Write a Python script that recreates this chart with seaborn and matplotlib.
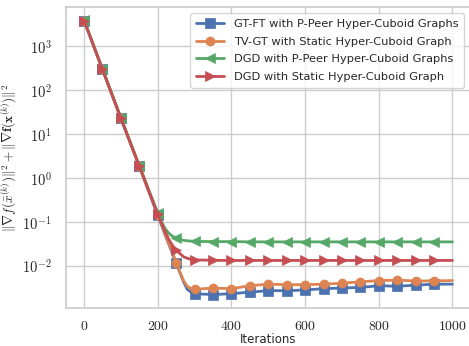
import numpy as np
import pandas as pd
import matplotlib
matplotlib.use('Agg')
import matplotlib.pyplot as plt
import matplotlib.ticker as mticker
import seaborn as sns

iters = [0, 50, 100, 150, 200, 210, 220, 230, 240, 250, 260, 270, 280, 290, 300,
         350, 400, 450, 500, 550, 600, 650, 700, 750, 800, 850, 900, 950, 1000]

gtft_ppeer = [3900, 300, 23, 1.85, 0.14, 0.085, 0.05, 0.031, 0.019, 0.0115, 0.007, 0.0043,
              0.0029, 0.0025, 0.0023, 0.0022, 0.0023, 0.0025, 0.0027, 0.0027, 0.0028,
              0.0030, 0.0031, 0.0032, 0.0035, 0.0034, 0.0036, 0.0038, 0.0038]
tvgt_static = [3900, 300, 23, 1.85, 0.145, 0.088, 0.052, 0.032, 0.02, 0.0118, 0.0072, 0.0046,
               0.0034, 0.0030, 0.0029, 0.0031, 0.0030, 0.0035, 0.0038, 0.0037, 0.0037,
               0.0038, 0.0040, 0.0043, 0.0046, 0.0047, 0.0045, 0.0045, 0.0046]
dgd_ppeer = [3950, 300, 23.5, 1.9, 0.16, 0.10, 0.07, 0.055, 0.047, 0.043, 0.040, 0.038,
             0.037, 0.0365, 0.036, 0.0355, 0.0355, 0.035, 0.035, 0.035, 0.035,
             0.035, 0.035, 0.035, 0.035, 0.035, 0.035, 0.035, 0.035]
dgd_static = [3900, 300, 23, 1.85, 0.15, 0.095, 0.06, 0.04, 0.029, 0.023, 0.019, 0.016,
              0.0148, 0.014, 0.0136, 0.0133, 0.0132, 0.0132, 0.0132, 0.0132, 0.0132,
              0.0132, 0.0132, 0.0132, 0.0132, 0.0132, 0.0132, 0.0132, 0.0132]

labels = ['GT-FT with P-Peer Hyper-Cuboid Graphs',
          'TV-GT with Static Hyper-Cuboid Graph',
          'DGD with P-Peer Hyper-Cuboid Graphs',
          'DGD with Static Hyper-Cuboid Graph']
markers = ['s', 'o', '<', '>']
xticks = [0, 200, 400, 600, 800, 1000]
yticks = [1e-2, 1e-1, 1e0, 1e1, 1e2, 1e3]

sns.set_theme(style='whitegrid')
plt.rcParams['font.family'] = ['DejaVu Sans']
plt.rcParams['mathtext.fontset'] = 'cm'

colors = sns.color_palette('deep')
mark_idx = [i for i, it in enumerate(iters) if it % 50 == 0 and it < 1000]

fig = plt.figure(figsize=(4.69, 3.46), dpi=100)
ax = fig.add_axes([0.140, 0.109, 0.864, 0.872])

for ys, lab, mk, c in zip([gtft_ppeer, tvgt_static, dgd_ppeer, dgd_static], labels, markers, colors):
    df = pd.DataFrame({'it': iters, 'val': ys})
    sns.lineplot(data=df, x='it', y='val', ax=ax, label=lab, color=c, marker=mk,
                 markevery=mark_idx, markersize=6.5, linewidth=2, mec=c, mew=0.5)

ax.set_yscale('log')
ax.set_xticks(xticks)
ax.set_yticks(yticks)
ax.xaxis.set_major_formatter(mticker.FuncFormatter(lambda v, p: r'$%d$' % v))
ax.yaxis.set_major_formatter(mticker.FuncFormatter(lambda v, p: r'$10^{%d}$' % round(np.log10(v))))
ax.yaxis.set_minor_locator(mticker.NullLocator())
ax.tick_params(axis='y', labelsize=10.5, pad=4)
ax.tick_params(axis='x', labelsize=10, pad=2)
ax.set_xlabel('Iterations', fontsize=8.5)
ax.xaxis.set_label_coords(0.5, -0.083)
ax.set_ylabel(r'$\|\nabla f(\bar{x}^{(k)})\|^2 + \|\overline{\nabla \mathbf{f}}(\mathbf{x}^{(k)})\|^2$',
              fontsize=9.5, labelpad=2)
ax.set_xlim(-50, 1050)
ax.legend(loc='upper right', fontsize=8.2, handlelength=2.5, borderaxespad=0.6,
          labelspacing=0.7, handletextpad=0.9, borderpad=0.45)

fig.savefig('out.png', dpi=100)
